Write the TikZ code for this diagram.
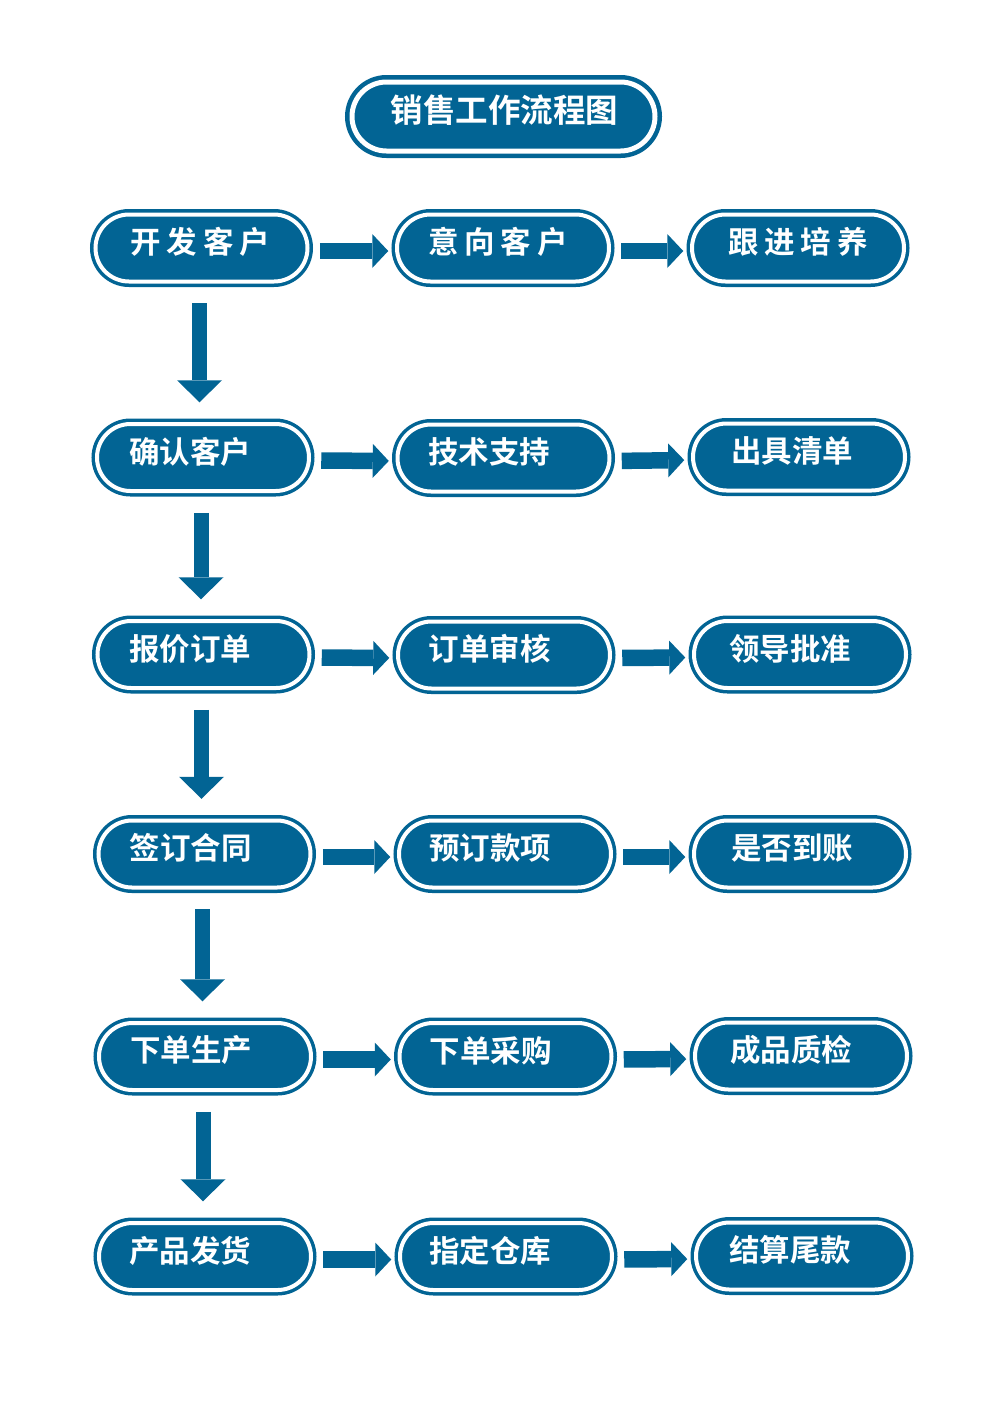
\documentclass[tikz,border=0pt]{standalone}
\usepackage{fontspec}
\newfontfamily\cjk{Noto Sans CJK SC}[BoldFont=* Bold]
\usetikzlibrary{arrows.meta,shapes.misc}
\definecolor{sblue}{RGB}{2,100,148}
\tikzset{
  pill/.style={rounded rectangle, draw=sblue, fill=sblue, line width=3.5pt,
    double=white, double distance=4pt, minimum width=212pt, minimum height=67pt, inner sep=0pt},
  titlepill/.style={pill, line width=4.5pt, double distance=5pt,
    minimum width=303pt, minimum height=69pt},
  lbl/.style={text=white, font=\cjk\bfseries\fontsize{30.5}{32}\selectfont, inner sep=0pt},
  titlelbl/.style={lbl, font=\cjk\bfseries\fontsize{32.5}{34}\selectfont},
  harrow/.style={draw=sblue, line width=16.5pt,
    -{Triangle[width=34pt,length=16pt,line width=0pt]}, shorten <=10.5pt, shorten >=7pt},
  varrow/.style={draw=sblue, line width=15pt,
    -{Triangle[width=45pt,length=22pt,line width=0pt]}, shorten <=20pt, shorten >=20pt},
}
\newcommand\mkpill[5]{%
  \node[pill] (#1) at (#2,#3) {};
  \node[lbl] (#1t) at ([xshift=#4pt,yshift=6pt]#1.center) {#5};
}
\begin{document}
\begin{tikzpicture}[x=1pt,y=-1pt]
\fill[white] (0,0) rectangle (992,1403);
\useasboundingbox (0,0) rectangle (992,1403);

% title
\node[titlepill] (title) at (503.5,116.5) {};
\node[titlelbl] (titlet) at ([xshift=1pt,yshift=6.5pt]title.center) {销售工作流程图};

% row 1
\mkpill{n11}{201.5}{248}{-1}{开\hspace{6pt}发\hspace{6pt}客\hspace{6pt}户}
\mkpill{n12}{503}{248}{-5}{意\hspace{6pt}向\hspace{6pt}客\hspace{6pt}户}
\mkpill{n13}{798}{248}{0}{跟\hspace{6pt}进\hspace{6pt}培\hspace{6pt}养}
% row 2
\mkpill{n21}{203}{457.5}{-13}{确认客户}
\mkpill{n22}{503.5}{458}{-14.5}{技术支持}
\mkpill{n23}{799}{457}{-7}{出具清单}
% row 3
\mkpill{n31}{203.5}{654.5}{-13.5}{报价订单}
\mkpill{n32}{504}{655}{-14.5}{订单审核}
\mkpill{n33}{800}{654.5}{-10}{领导批准}
% row 4
\mkpill{n41}{204.5}{854}{-14}{签订合同}
\mkpill{n42}{505}{854}{-15}{预订款项}
\mkpill{n43}{800}{854}{-8}{是否到账}
% row 5
\mkpill{n51}{205}{1056.5}{-14}{下单生产}
\mkpill{n52}{505.5}{1056.5}{-15}{下单采购}
\mkpill{n53}{801}{1056}{-10}{成品质检}
% row 6
\mkpill{n61}{205}{1256.5}{-15}{产品发货}
\mkpill{n62}{506}{1256.5}{-16}{指定仓库}
\mkpill{n63}{802}{1256}{-12}{结算尾款}

% horizontal arrows
\foreach \r in {1,...,6}{
  \draw[harrow] ([yshift=-3pt]n\r1.east) -- ([yshift=-3pt]n\r2.west);
  \draw[harrow] ([yshift=-3pt]n\r2.east) -- ([yshift=-3pt]n\r3.west);
}
% vertical arrows
\foreach \a/\b in {1/2,2/3,3/4,4/5,5/6}{
  \draw[varrow] ([xshift=-2pt]n\a1.south) -- ([xshift=-2pt]n\a1.south |- n\b1.north);
}
\end{tikzpicture}
\end{document}
